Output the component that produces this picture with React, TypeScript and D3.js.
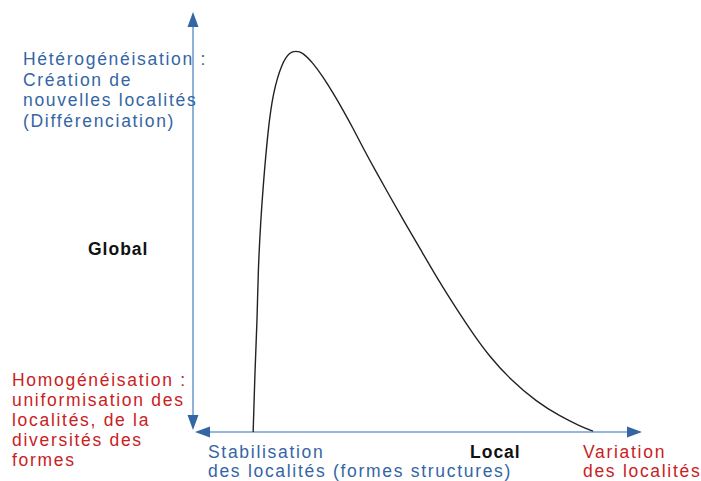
import * as d3 from 'd3'

const W = 701
const H = 481

// curve, in axis units (0..100 on both axes)
const curveX = [13.4, 13.8, 14.3, 14.5, 15.1, 15.6, 16.7, 17.8, 19.8, 21.6, 22.9, 24.3, 26.7, 29.0, 31.2, 33.4, 35.6, 37.9, 40.8, 43.9, 47.2, 50.6, 55.0, 58.4, 62.4, 66.1, 70.6, 76.6, 81.7, 86.2, 89.1]
const curveY = [0, 14.8, 26.7, 38.6, 50.5, 58.3, 71.9, 80.7, 87.9, 90.5, 90.7, 90.5, 87.9, 84.5, 80.7, 76.7, 72.4, 67.6, 61.9, 56.0, 49.8, 43.6, 35.5, 29.8, 23.3, 17.9, 12.6, 7.1, 3.8, 1.4, 0.2]

const topLines = ['Hétérogénéisation :', 'Création de', 'nouvelles localités', '(Différenciation)']
const bottomLines = ['Homogénéisation :', 'uniformisation des', 'localités, de la', 'diversités des', 'formes']
const stabLines = ['Stabilisation', 'des localités (formes structures)']
const variationLines = ['Variation', 'des localités']

const BLUE = '#3465a4'
const LINE_BLUE = '#729fcf'
const RED = '#c9211e'
const FONT = '"Liberation Sans", Arial, sans-serif'

const x = d3.scaleLinear().domain([0, 100]).range([193, 642])
const y = d3.scaleLinear().domain([0, 100]).range([432, 12])

function arrow(tx: number, ty: number, dir: 'up' | 'down' | 'left' | 'right') {
  const L = 15
  const hw = 5.5
  let pts: [number, number][]
  if (dir === 'up') pts = [[tx, ty], [tx - hw, ty + L], [tx + hw, ty + L]]
  else if (dir === 'down') pts = [[tx, ty], [tx - hw, ty - L], [tx + hw, ty - L]]
  else if (dir === 'left') pts = [[tx, ty], [tx + L, ty - hw], [tx + L, ty + hw]]
  else pts = [[tx, ty], [tx - L, ty - hw], [tx - L, ty + hw]]
  return <polygon points={pts.map(p => p.join(',')).join(' ')} fill={BLUE} />
}

function Block({ lines, x0, y0, color, step = 20.3 }: { lines: string[]; x0: number; y0: number; color: string; step?: number }) {
  return (
    <g fontFamily={FONT} fontSize={17.5} letterSpacing={1.7} fill={color}>
      {lines.map((l, i) => (
        <text key={i} x={x0} y={y0 + i * step}>{l}</text>
      ))}
    </g>
  )
}

export default function App() {
  const pts: [number, number][] = curveX.map((v, i) => [v, curveY[i]])
  const line = d3.line<[number, number]>()
    .x(d => x(d[0]))
    .y(d => y(d[1]))
    .curve(d3.curveBasis)

  const x0 = x(0)
  const y0 = y(0)

  return (
    <svg width={W} height={H} style={{ position: 'absolute', left: 0, top: 0, background: '#fff' }}>
      {/* axes */}
      <line x1={x0} y1={y(100) + 10} x2={x0} y2={y0 - 8} stroke={LINE_BLUE} strokeWidth={1.6} />
      <line x1={x0 + 8} y1={y0} x2={x(100) - 10} y2={y0} stroke={LINE_BLUE} strokeWidth={1.6} />
      {arrow(x0, y(100), 'up')}
      {arrow(x0, y0 - 2, 'down')}
      {arrow(x0 + 2, y0, 'left')}
      {arrow(x(100), y0, 'right')}

      <path d={line(pts) ?? ''} fill="none" stroke="#222" strokeWidth={1.4} />

      <Block lines={topLines} x0={23} y0={65} color={BLUE} step={20.5} />
      <Block lines={bottomLines} x0={12} y0={386} color={RED} step={20} />
      <Block lines={stabLines} x0={208} y0={458} color={BLUE} step={18.5} />
      <Block lines={variationLines} x0={583} y0={458} color={RED} step={18.5} />

      <text x={88} y={255} fontFamily={FONT} fontSize={17.5} fontWeight="bold" letterSpacing={1} fill="#111">Global</text>
      <text x={470} y={458} fontFamily={FONT} fontSize={17.5} fontWeight="bold" letterSpacing={1} fill="#111">Local</text>
    </svg>
  )
}
